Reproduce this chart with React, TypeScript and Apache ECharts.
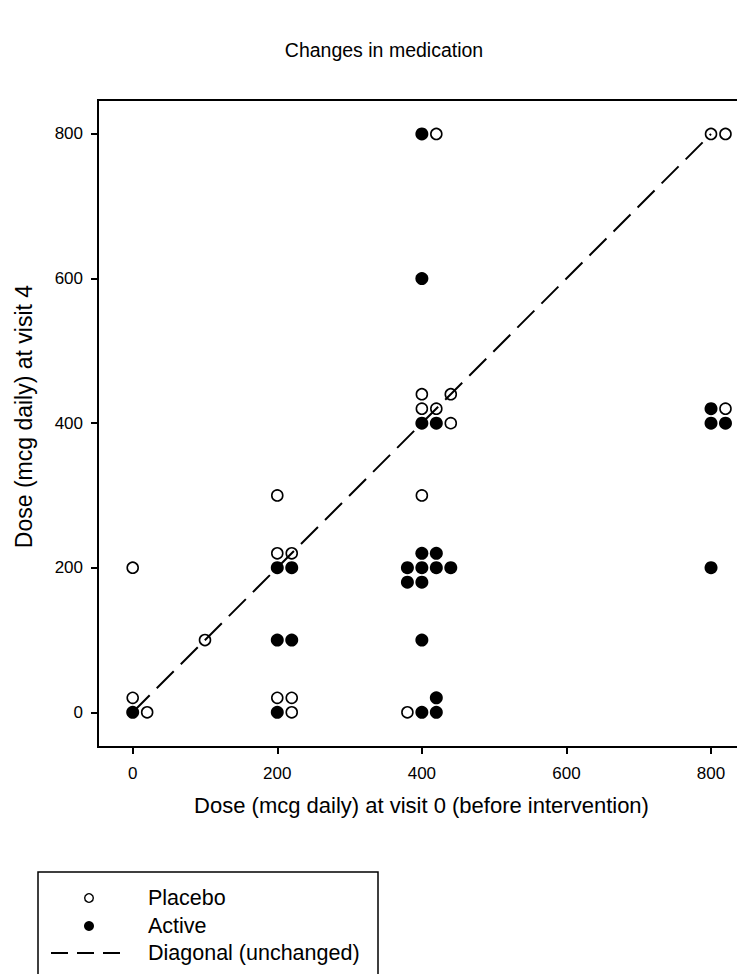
import React, { useEffect, useRef } from "react";
import * as echarts from "echarts";

const TITLE = "Changes in medication";
const X_NAME = "Dose (mcg daily) at visit 0 (before intervention)";
const Y_NAME = "Dose (mcg daily) at visit 4";
const TICKS = [0, 200, 400, 600, 800];
const AXIS_MIN = -48;
const AXIS_MAX = 847;

// Open circles (placebo); neighbours offset by 20 so they don't overlap
const PLACEBO: [number, number][] = [
  [420, 800], [800, 800], [820, 800],
  [400, 440], [440, 440], [400, 420], [420, 420], [440, 400], [820, 420],
  [200, 300], [400, 300],
  [0, 200], [200, 220], [220, 220],
  [100, 100],
  [0, 20], [20, 0], [200, 20], [220, 20], [220, 0], [380, 0],
];

// Filled circles (active)
const ACTIVE: [number, number][] = [
  [400, 800], [400, 600],
  [400, 400], [420, 400], [800, 420], [800, 400], [820, 400],
  [200, 200], [220, 200], [400, 220], [420, 220], [380, 200], [400, 200],
  [420, 200], [440, 200], [380, 180], [400, 180], [800, 200],
  [200, 100], [220, 100], [400, 100],
  [0, 0], [200, 0], [420, 20], [400, 0], [420, 0],
];

const DIAGONAL: [number, number][] = [[0, 0], [800, 800]];

const LEGEND_LABELS = ["Placebo", "Active", "Diagonal (unchanged)"];

const INK = "#000";
const FONT = "Liberation Sans, Arial, sans-serif";

export default function App() {
  const ref = useRef<HTMLDivElement>(null);
  useEffect(() => {
    if (!ref.current) return;
    const chart = echarts.init(ref.current, undefined, { renderer: "svg" });
    const axisCommon = {
      type: "value" as const,
      min: AXIS_MIN,
      max: AXIS_MAX,
      nameLocation: "middle" as const,
      splitLine: { show: false },
      axisLine: { show: true, onZero: false, lineStyle: { color: INK, width: 2 } },
      axisTick: {
        show: true,
        inside: false,
        length: 7,
        customValues: TICKS,
        lineStyle: { color: INK, width: 2 },
      },
      axisLabel: {
        customValues: TICKS,
        color: INK,
        fontFamily: FONT,
        fontSize: 17,
      },
    };
    const legendTop = 872;
    const rowY = [898, 926, 953];
    chart.setOption({
      animation: false,
      backgroundColor: "#fff",
      title: {
        text: TITLE,
        left: 379,
        top: 35,
        textAlign: "center",
        textStyle: { color: INK, fontFamily: FONT, fontSize: 19.5, fontWeight: "normal" },
      },
      grid: {
        left: 98,
        top: 100,
        right: -8,
        bottom: 227,
        show: true,
        borderColor: INK,
        borderWidth: 2,
        containLabel: false,
        outerBoundsMode: "none",
      },
      xAxis: {
        ...axisCommon,
        name: X_NAME,
        nameGap: 47,
        nameTextStyle: { color: INK, fontFamily: FONT, fontSize: 22 },
        axisLabel: { ...axisCommon.axisLabel, margin: 18 },
      },
      yAxis: {
        ...axisCommon,
        name: Y_NAME,
        nameGap: 63,
        nameTextStyle: {
          color: INK,
          fontFamily: FONT,
          fontSize: 23,
          padding: [0, 0, 0, 14],
        },
        axisLabel: { ...axisCommon.axisLabel, margin: 15 },
      },
      series: [
        {
          name: "Diagonal (unchanged)",
          type: "line",
          data: DIAGONAL,
          showSymbol: false,
          symbol: "none",
          lineStyle: { color: INK, width: 2, type: [24, 10] },
          z: 1,
        },
        {
          name: "Active",
          type: "scatter",
          data: ACTIVE,
          symbol: "circle",
          symbolSize: 13,
          itemStyle: { color: INK, opacity: 1 },
          z: 2,
        },
        {
          name: "Placebo",
          type: "scatter",
          data: PLACEBO,
          symbol: "circle",
          symbolSize: 11,
          itemStyle: {
            color: "rgba(255,255,255,0)",
            borderColor: INK,
            borderWidth: 1.6,
            opacity: 1,
          },
          z: 3,
        },
      ],
      graphic: [
        {
          type: "rect",
          shape: { x: 38, y: legendTop, width: 340, height: 140 },
          style: { fill: "#fff", stroke: INK, lineWidth: 1.5 },
        },
        {
          type: "circle",
          shape: { cx: 89, cy: rowY[0], r: 4.3 },
          style: { fill: "#fff", stroke: INK, lineWidth: 1.4 },
        },
        {
          type: "circle",
          shape: { cx: 89, cy: rowY[1], r: 5 },
          style: { fill: INK },
        },
        {
          type: "line",
          shape: { x1: 51, y1: rowY[2], x2: 120, y2: rowY[2] },
          style: { stroke: INK, lineWidth: 2, lineDash: [17, 9] },
        },
        ...LEGEND_LABELS.map((t, i) => ({
          type: "text",
          x: 148,
          y: rowY[i],
          style: {
            text: t,
            fill: INK,
            fontFamily: FONT,
            fontSize: 21.5,
            textVerticalAlign: "middle",
            verticalAlign: "middle",
          },
        })),
      ],
    });
    return () => chart.dispose();
  }, []);
  return (
    <div
      ref={ref}
      style={{ position: "fixed", left: 0, top: 0, width: 737, height: 974 }}
    />
  );
}
